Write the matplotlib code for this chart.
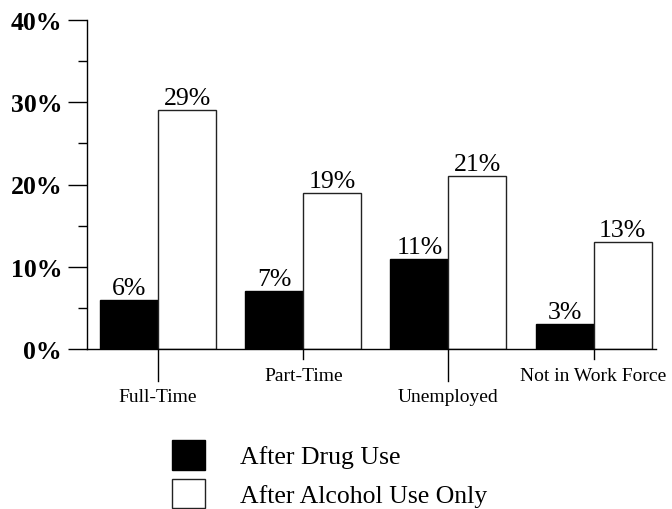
import matplotlib
matplotlib.use("Agg")
import matplotlib.pyplot as plt
import matplotlib.patches as mpatches
import numpy as np

# ── data ──────────────────────────────────────────────────────────────────────
categories = ["Full-Time", "Part-Time", "Unemployed", "Not in Work Force"]
drug_use = [6, 7, 11, 3]
alcohol_only = [29, 19, 21, 13]
series_names = ["After Drug Use", "After Alcohol Use Only"]

plt.rcParams["font.family"] = ["Liberation Serif", "DejaVu Serif"]

W, H = 672, 510
PX = 0.72  # points per pixel at dpi 100
fig = plt.figure(figsize=(W / 100, H / 100), dpi=100)
# axes placed in pixel terms: left 87, right 656, bottom y=350, top y=21
ax_h = 350 - 21
ax = fig.add_axes([87 / W, (H - 350) / H, (656 - 87) / W, ax_h / H])

x = np.arange(len(categories))
bw = 0.40
ax.bar(x - bw / 2, drug_use, bw, color="black", edgecolor="black", linewidth=1.0)
ax.bar(x + bw / 2, alcohol_only, bw, color="white", edgecolor="#222222", linewidth=1.0)

for xi, v in zip(x - bw / 2, drug_use):
    ax.annotate(f"{v}%", (xi, v), xytext=(0, 6 * PX), textcoords="offset points",
                ha="center", va="baseline", fontsize=18.5)
for xi, v in zip(x + bw / 2, alcohol_only):
    ax.annotate(f"{v}%", (xi, v), xytext=(0, 6 * PX), textcoords="offset points",
                ha="center", va="baseline", fontsize=18.5)

ax.set_xlim(-0.49, 3.43)
ax.set_ylim(0, 40)

for s in ["top", "right"]:
    ax.spines[s].set_visible(False)
ax.spines["left"].set_linewidth(1.0)
ax.spines["bottom"].set_linewidth(1.0)

ax.set_yticks([0, 10, 20, 30, 40])
ax.set_yticklabels([f"{t}%" for t in [0, 10, 20, 30, 40]], fontsize=18.5, fontweight="bold")
ax.set_yticks([5, 15, 25, 35], minor=True)
ax.tick_params(axis="y", which="major", direction="out", length=19 * PX, width=1.0, pad=6 * PX)
ax.tick_params(axis="y", which="minor", direction="out", length=9 * PX, width=1.0)

# category ticks and labels, alternating low / high
ax.set_xticks([])
for i, (xi, cat) in enumerate(zip(x, categories)):
    tick_px, label_px = (32, 39) if i % 2 == 0 else (10, 18)
    ax.plot([xi, xi], [0, -tick_px / ax_h], transform=ax.get_xaxis_transform(),
            color="black", linewidth=1.0, clip_on=False)
    ax.annotate(cat, (xi, 0), xycoords=("data", "axes fraction"),
                xytext=(0, -label_px * PX), textcoords="offset points",
                ha="center", va="top", fontsize=14)

handles = [
    mpatches.Patch(facecolor="black", edgecolor="black", label=series_names[0]),
    mpatches.Patch(facecolor="white", edgecolor="#222222", label=series_names[1]),
]
fig.legend(handles=handles, loc="upper left",
           bbox_to_anchor=(172 / W, (H - 441) / H),
           frameon=False, fontsize=18.5, handlelength=1.28, handleheight=1.40,
           handletextpad=1.36, labelspacing=0.35, borderpad=0, borderaxespad=0)

fig.savefig("out.png", dpi=100, facecolor="white")
